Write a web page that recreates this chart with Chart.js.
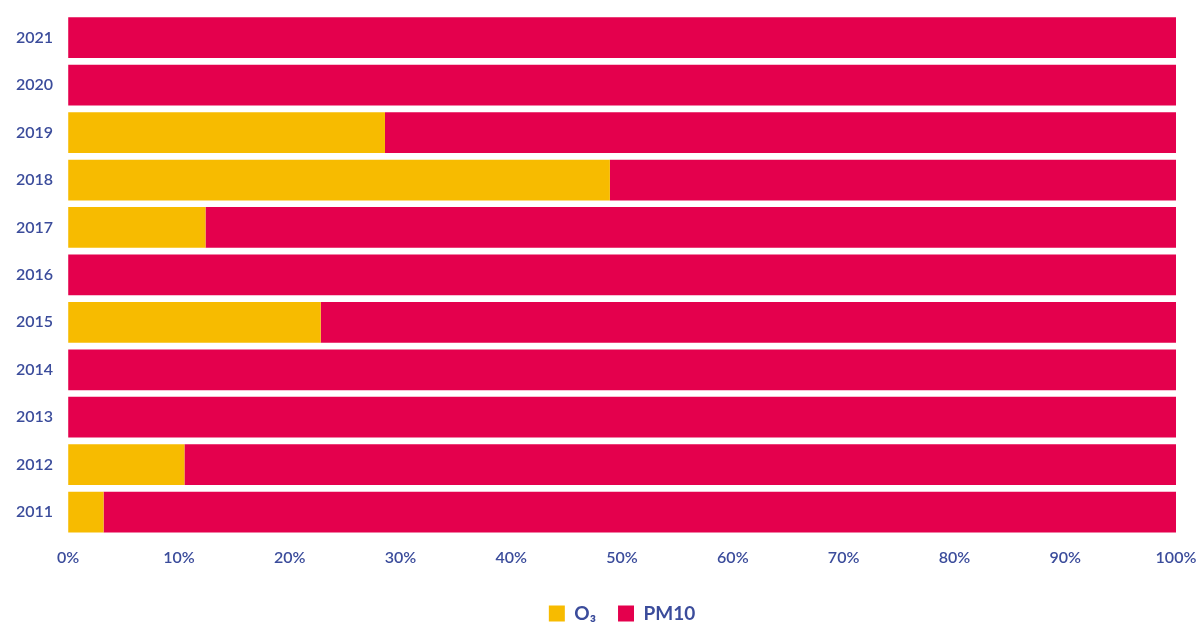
<!DOCTYPE html>
<html>
<head>
<meta charset="utf-8">
<script src="https://cdn.jsdelivr.net/npm/chart.js@4/dist/chart.umd.min.js"></script>
<style>
  html, body { margin: 0; padding: 0; background: #fff; }
  #wrap { width: 1202px; height: 626px; position: relative; }
</style>
</head>
<body>
<div id="wrap"><canvas id="chart"></canvas></div>
<script>
// Données (part en %)
const years = ['2021', '2020', '2019', '2018', '2017', '2016', '2015', '2014', '2013', '2012', '2011'];
const o3Values = [0, 0, 28.6, 48.9, 12.4, 0, 22.8, 0, 0, 10.5, 3.2];
const pm10Values = [100, 100, 71.4, 51.1, 87.6, 100, 77.2, 100, 100, 89.5, 96.8];
const xTicks = [0, 10, 20, 30, 40, 50, 60, 70, 80, 90, 100];

const textColor = '#3b4c9b';
const fontFamily = "Lato, 'Noto Sans', sans-serif";

new Chart(document.getElementById('chart').getContext('2d'), {
    type: 'bar',
    data: {
        labels: years,
        datasets: [
            {
                label: 'O₃',
                data: o3Values,
                backgroundColor: '#f7bb00',
                barPercentage: 0.86,
                categoryPercentage: 1
            },
            {
                label: 'PM10',
                data: pm10Values,
                backgroundColor: '#e4004d',
                barPercentage: 0.86,
                categoryPercentage: 1
            }
        ]
    },
    options: {
        indexAxis: 'y',
        responsive: true,
        maintainAspectRatio: false,
        animation: false,
        layout: { padding: { left: 13, right: 26, top: 14, bottom: -7 } },
        plugins: {
            tooltip: { enabled: false },
            legend: {
                position: 'bottom',
                fullSize: false, // centrée sous la zone de tracé
                labels: {
                    color: textColor,
                    font: { family: fontFamily, size: 19, weight: 'bold' },
                    boxWidth: 16,
                    boxHeight: 16,
                    padding: 22
                }
            }
        },
        scales: {
            x: {
                stacked: true,
                min: 0,
                max: 100,
                grid: { display: false },
                border: { display: false },
                afterBuildTicks: (axis) => { axis.ticks = xTicks.map(v => ({ value: v })); },
                // le label "100%" déborde dans la marge de droite
                afterFit: (axis) => {
                    axis.paddingLeft = 0;
                    axis.paddingRight = 0;
                    axis.height += 11;
                },
                ticks: {
                    color: textColor,
                    font: { family: fontFamily, size: 16, weight: '600' },
                    padding: 4,
                    callback: (v) => v + '%'
                }
            },
            y: {
                stacked: true,
                grid: { display: false, tickLength: 12 },
                border: { display: false },
                ticks: {
                    color: textColor,
                    font: { family: fontFamily, size: 16, weight: '600' },
                    padding: 3
                }
            }
        }
    }
});
</script>
</body>
</html>
